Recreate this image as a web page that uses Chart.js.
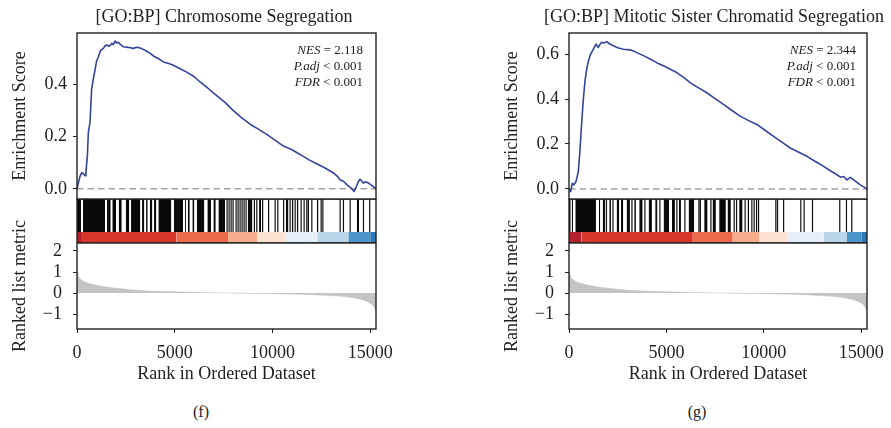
<!DOCTYPE html>
<html>
<head>
<meta charset="utf-8">
<script src="https://cdn.jsdelivr.net/npm/chart.js@4.4.1/dist/chart.umd.min.js"></script>
<style>
  body { margin: 0; width: 891px; height: 428px; background: #fff; position: relative; overflow: hidden;
         font-family: 'Liberation Serif', 'DejaVu Serif', serif; color: #222; }
  canvas { position: absolute; }
  .title { position: absolute; top: 6px; font-size: 18px; line-height: 20px; white-space: nowrap; transform: translateX(-50%); }
  .stats { position: absolute; top: 42px; font-size: 13px; line-height: 16px; text-align: right; white-space: nowrap; transform: translateX(-100%); }
  .cap { position: absolute; top: 402px; font-size: 16px; line-height: 20px; transform: translateX(-50%); }
</style>
</head>
<body>
<script>
// ─── DATA ─────────────────────────────────────────────────
const X_MAX = 15300;
const xTickValues = [0, 5000, 10000, 15000];
const esTicksF = [0, 0.2, 0.4];
const esTicksG = [0, 0.2, 0.4, 0.6];
const metricTicks = [-1, 0, 1, 2];

// running enrichment score, panel (f)
const esRanksF = [0, 60, 154, 240, 324, 410, 460, 530, 580, 666, 750, 830, 920, 1000, 1090, 1200, 1347, 1430, 1518, 1650,
    1774, 1860, 1945, 2030, 2116, 2250, 2372, 2600, 2883, 3050, 3224, 3400, 3565, 3750, 3906, 4150, 4418, 4700, 4930, 5250,
    5613, 6000, 6296, 6700, 7149, 7600, 8002, 8400, 8855, 9300, 9708, 10150, 10562, 11000, 11415, 11850, 12268, 12695, 13121, 13300,
    13463, 13650, 13804, 14000, 14180, 14300, 14400, 14486, 14570, 14657, 14750, 14913, 15083, 15300];
const esScoresF = [0.000, 0.020, 0.048, 0.062, 0.058, 0.050, 0.067, 0.125, 0.216, 0.255, 0.384, 0.420, 0.455, 0.490, 0.506, 0.530, 0.539, 0.548, 0.552, 0.547,
    0.558, 0.553, 0.567, 0.560, 0.562, 0.552, 0.545, 0.543, 0.539, 0.543, 0.541, 0.535, 0.528, 0.520, 0.510, 0.500, 0.487, 0.481, 0.474, 0.462,
    0.448, 0.430, 0.410, 0.386, 0.358, 0.330, 0.300, 0.274, 0.248, 0.228, 0.209, 0.186, 0.164, 0.150, 0.132, 0.112, 0.096, 0.080, 0.061, 0.050,
    0.035, 0.028, 0.016, 0.005, -0.010, 0.010, 0.028, 0.037, 0.030, 0.022, 0.027, 0.022, 0.013, 0.000];

// running enrichment score, panel (g)
const esRanksG = [0, 86, 171, 257, 360, 480, 565, 617, 680, 737, 820, 908, 1000, 1079, 1160, 1250, 1388, 1450, 1508, 1600,
    1679, 1800, 1936, 2100, 2278, 2500, 2792, 3135, 3400, 3649, 3900, 4163, 4500, 4848, 5200, 5534, 5900, 6219, 6650, 7076,
    7500, 7932, 8350, 8789, 9200, 9646, 10080, 10503, 10930, 11359, 11800, 12216, 12650, 13073, 13400, 13758, 13929, 14100, 14272, 14444,
    14615, 14800, 14957, 15300];
const esScoresG = [0.000, -0.012, 0.025, 0.018, 0.033, 0.078, 0.175, 0.249, 0.330, 0.399, 0.480, 0.533, 0.570, 0.593, 0.608, 0.622, 0.645, 0.636, 0.630, 0.645,
    0.652, 0.650, 0.655, 0.645, 0.637, 0.628, 0.622, 0.619, 0.610, 0.600, 0.590, 0.578, 0.562, 0.548, 0.533, 0.518, 0.495, 0.473, 0.450, 0.428,
    0.402, 0.376, 0.350, 0.324, 0.305, 0.287, 0.260, 0.234, 0.208, 0.182, 0.163, 0.145, 0.122, 0.100, 0.082, 0.063, 0.052, 0.055, 0.040, 0.051,
    0.040, 0.028, 0.018, 0.000];

// ranked list metric (same ranking for both panels)
const metricRanks = [0, 50, 120, 240, 400, 600, 900, 1200, 1700, 2300, 2900, 3700, 4600, 5500, 6500, 7500, 8500, 9500, 10500, 11400,
    12300, 13100, 13700, 14200, 14600, 14900, 15100, 15200, 15300];
const metricValues = [1.00, 0.85, 0.72, 0.62, 0.53, 0.46, 0.39, 0.33, 0.26, 0.20, 0.15, 0.10, 0.07, 0.05, 0.025, 0.005, -0.01, -0.025, -0.04, -0.06,
    -0.09, -0.13, -0.17, -0.24, -0.32, -0.42, -0.55, -0.67, -0.89];

// gene-set hits: solid runs [start, end] and single hits
const bandsF = [[0, 205], [307, 1434], [1536, 1725], [1807, 1997], [2135, 2289], [2493, 2678], [2765, 3241], [3328, 3446],
    [3533, 3620], [3722, 3855], [3942, 4060], [4163, 4828], [4951, 5427], [5530, 5581], [5668, 5770], [5904, 6006], [6129, 6518],
    [6671, 6861], [6979, 7101], [7235, 7578], [8740, 8975], [9318, 9421], [10686, 10819], [10993, 11075], [11249, 11331],
    [12273, 12355], [14321, 14438]];
const hitsF = [7680, 7782, 7885, 7987, 8141, 8243, 8346, 8448, 8550, 8653, 9078, 9201, 9498, 9805, 10138, 10276, 10573,
    10906, 11162, 11469, 11622, 11760, 11842, 12017, 12493, 12580, 13466, 13635, 13978, 14659, 14976];

const bandsG = [[0, 87], [139, 205], [323, 1385], [1539, 1606], [1729, 1862], [2067, 2155], [2447, 2580], [2668, 2786],
    [2960, 3129], [3350, 3437], [3606, 3781], [4089, 4258], [4427, 4540], [4858, 5145], [5284, 5438], [5643, 5746], [6141, 6428],
    [6941, 7115], [7372, 7541], [7710, 8054], [8141, 8311], [8736, 8911], [9167, 9250]];
const hitsG = [1924, 2257, 3232, 3899, 4668, 5540, 5951, 6669, 6746, 7285, 8480, 8603, 9044, 9388, 9506, 9629, 9732,
    10619, 10706, 11019, 11902, 12071, 12502, 13902, 14246, 14518];

// colour strip breaks (rank) for metric bins
const stripEdgesF = [0, 250, 5100, 7730, 9210, 10640, 12290, 13880, 15000, 15300];
const stripEdgesG = [0, 650, 6360, 8410, 9780, 11190, 13070, 14240, 15000, 15300];

const titles = ['[GO:BP] Chromosome Segregation', '[GO:BP] Mitotic Sister Chromatid Segregation'];
const nesValues = ['2.118', '2.344'];
const captions = ['(f)', '(g)'];

// ─── STYLE ────────────────────────────────────────────────
const serif = "'Liberation Serif', 'DejaVu Serif', serif";
const ink = '#222';
const stripPalette = ['#b2202b', '#d7362b', '#ec6a4c', '#f6ab8b', '#fde2d2', '#e6eef7', '#b8d5ea', '#4a94c9', '#2c78b6'];
const AXIS_W = 77, PAD_R = 30, PAD_V = 30;

const frame = {
    id: 'frame',
    afterDatasetsDraw(chart) {
        const { ctx, chartArea: a } = chart;
        ctx.save();
        ctx.strokeStyle = ink;
        ctx.lineWidth = 1.4;
        ctx.strokeRect(a.left, a.top, a.right - a.left, a.bottom - a.top);
        ctx.restore();
    }
};

function addCanvas(left, top, w, h) {
    const c = document.createElement('canvas');
    c.width = w; c.height = h;
    c.style.left = left + 'px'; c.style.top = top + 'px';
    document.body.appendChild(c);
    return c;
}

function addText(cls, x, html) {
    const d = document.createElement('div');
    d.className = cls;
    d.style.left = x + 'px';
    d.innerHTML = html;
    document.body.appendChild(d);
}

const pts = (xs, ys) => xs.map((x, i) => ({ x, y: ys[i] }));
const fixTicks = vals => s => { s.ticks = vals.map(v => ({ value: v })); };
const hiddenX = { type: 'linear', min: 0, max: X_MAX, display: false };
const base = { responsive: false, animation: false, plugins: { legend: { display: false }, tooltip: { enabled: false } } };

function yAxis(min, max, tickVals, title, pad, fmt) {
    return {
        min, max,
        afterBuildTicks: fixTicks(tickVals),
        afterFit: s => { s.width = AXIS_W; },
        ticks: { padding: pad, color: ink, font: { family: serif, size: 18 }, callback: fmt },
        grid: { drawOnChartArea: false, tickLength: 4, color: ink },
        border: { display: false },
        title: { display: true, text: title, color: ink, font: { family: serif, size: 18 }, padding: { top: 9, bottom: 0 } }
    };
}

function buildColumn(c) {
    const w = AXIS_W + c.plotW + PAD_R;

    // enrichment score: plot area 33..199
    new Chart(addCanvas(c.left, 33 - PAD_V, w, 166 + 2 * PAD_V), {
        type: 'line',
        data: { datasets: [
            { data: pts(c.esRanks, c.esScores), borderColor: '#34449a', borderWidth: 1.6, pointRadius: 0, borderJoinStyle: 'round' },
            { data: [{ x: 0, y: 0 }, { x: X_MAX, y: 0 }], borderColor: '#a3a3a3', borderWidth: 1.5, borderDash: [6.5, 4], pointRadius: 0 }
        ] },
        options: { ...base, layout: { padding: { top: PAD_V, bottom: PAD_V, left: 0, right: PAD_R } },
            scales: { x: hiddenX, y: yAxis(c.esMin, c.esMax, c.esTicks, 'Enrichment Score', 6, v => v.toFixed(1)) } },
        plugins: [frame]
    });

    // barcode + colour strip: 199..243
    const strip = c.stripEdges.slice(0, -1).map((e, i) => ({
        data: [{ x: e, y: 0.25 }, { x: c.stripEdges[i + 1], y: 0.25 }],
        borderWidth: 0, pointRadius: 0, fill: { value: 0 }, backgroundColor: stripPalette[i]
    }));
    new Chart(addCanvas(c.left, 199, w, 44), {
        type: 'line',
        data: { datasets: [
            { data: c.hits.flatMap(r => [{ x: r, y: 0.25 }, { x: r, y: 1 }, { x: r, y: null }]),
              borderColor: '#111', borderWidth: 1.2, pointRadius: 0 },
            { data: c.bands.flatMap(([a, b]) => [{ x: a, y: 1 }, { x: b, y: 1 }, { x: b, y: null }]),
              borderWidth: 0, pointRadius: 0, fill: { value: 0.25 }, backgroundColor: '#0a0a0a' },
            ...strip
        ] },
        options: { ...base, layout: { padding: { top: 0, bottom: 0, left: AXIS_W, right: PAD_R } },
            scales: { x: hiddenX, y: { min: 0, max: 1, display: false } } },
        plugins: [frame]
    });

    // ranked list metric: plot area 243..329, x axis below
    new Chart(addCanvas(c.left, 200, w, 193), {
        type: 'line',
        data: { datasets: [
            { data: pts(metricRanks, metricValues), borderColor: '#c4c4c4', borderWidth: 0.5, pointRadius: 0,
              fill: 'origin', backgroundColor: '#c4c4c4' }
        ] },
        options: { ...base, layout: { padding: { top: 43, bottom: 4, left: 0, right: PAD_R } },
            scales: {
                x: { type: 'linear', min: 0, max: X_MAX,
                     afterBuildTicks: fixTicks(xTickValues),
                     afterFit: s => { s.height = 60; },
                     ticks: { padding: 9, maxRotation: 0, autoSkip: false, color: ink,
                              font: { family: serif, size: 18 }, callback: v => String(v) },
                     grid: { drawOnChartArea: false, tickLength: 4, color: ink },
                     border: { display: false },
                     title: { display: true, text: 'Rank in Ordered Dataset', color: ink,
                              font: { family: serif, size: 18 }, padding: { top: 4, bottom: 4 } } },
                y: yAxis(-1.71, 2.38, metricTicks, 'Ranked list metric', 11, v => (v < 0 ? '\u2212' + Math.abs(v) : String(v)))
            } },
        plugins: [frame]
    });

    addText('title', c.titleX, c.title);
    addText('stats', c.statsX, '<i>NES</i> = ' + c.nes + '<br><i>P.adj</i> &lt; 0.001<br><i>FDR</i> &lt; 0.001');
    addText('cap', c.capX, c.caption);
}

buildColumn({ left: 0, plotW: 299, esRanks: esRanksF, esScores: esScoresF, esMin: -0.039, esMax: 0.598, esTicks: esTicksF,
    bands: bandsF, hits: hitsF, stripEdges: stripEdgesF, title: titles[0], nes: nesValues[0], caption: captions[0],
    titleX: 224, statsX: 363, capX: 201 });
buildColumn({ left: 492, plotW: 298, esRanks: esRanksG, esScores: esScoresG, esMin: -0.045, esMax: 0.694, esTicks: esTicksG,
    bands: bandsG, hits: hitsG, stripEdges: stripEdgesG, title: titles[1], nes: nesValues[1], caption: captions[1],
    titleX: 714, statsX: 856, capX: 697 });
</script>
</body>
</html>
